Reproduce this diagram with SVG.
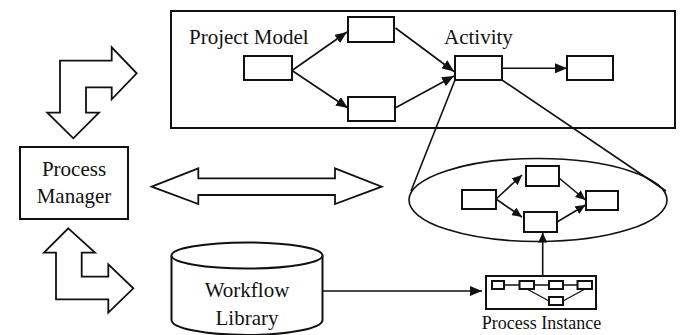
<svg xmlns="http://www.w3.org/2000/svg" width="680" height="335" viewBox="0 0 680 335">
  <style>
    .box { fill: #fff; stroke: #111; stroke-width: 2; }
    .frame { fill: none; stroke: #111; stroke-width: 2; }
    .big { fill: #fff; stroke: #111; stroke-width: 1.8; stroke-linejoin: miter; }
    .edge { fill: none; stroke: #111; stroke-width: 1.6; }
    .thin { fill: none; stroke: #111; stroke-width: 1.3; }
    text { font-family: 'Liberation Serif', 'Times New Roman', Times, 'DejaVu Serif', serif; fill: #111; }
    .lbl { font-size: 21px; }
    .lbl-s { font-size: 18px; }
  </style>
  <defs>
    <marker id="ah" viewBox="0 0 12 10" refX="12" refY="5" markerWidth="12" markerHeight="10" markerUnits="userSpaceOnUse" orient="auto">
      <path d="M0,0 L12,5 L0,10 Z" fill="#111"/>
    </marker>
    <marker id="ahs" viewBox="0 0 10 9" refX="10" refY="4.5" markerWidth="10" markerHeight="9" markerUnits="userSpaceOnUse" orient="auto">
      <path d="M0,0 L10,4.5 L0,9 Z" fill="#111"/>
    </marker>
  </defs>

  <!-- Project model frame -->
  <g id="project-model">
    <rect class="frame" x="171" y="11" width="504" height="117"/>
    <text class="lbl" x="189" y="44">Project Model</text>
    <rect class="box" x="244" y="56" width="48" height="24"/>
    <rect class="box" x="348" y="17" width="46" height="25"/>
    <rect class="box" x="348" y="97" width="47" height="24"/>
    <rect class="box" x="567" y="56" width="46" height="24"/>
  </g>
  <g id="activity">
    <text class="lbl" x="444" y="44">Activity</text>
    <rect class="box" x="455" y="56" width="47" height="24"/>
  </g>

  <!-- Process manager -->
  <g id="process-manager">
    <rect class="box" x="20" y="147" width="108" height="72"/>
    <text class="lbl" x="74" y="176" text-anchor="middle">Process</text>
    <text class="lbl" x="74" y="203" text-anchor="middle">Manager</text>
  </g>

  <!-- Activity detail (ellipse) -->
  <g id="activity-detail">
    <ellipse class="edge" cx="538" cy="200" rx="129" ry="41.5"/>
    <rect class="box" x="462" y="190" width="34" height="19"/>
    <rect class="box" x="526" y="166" width="33" height="20"/>
    <rect class="box" x="524" y="212" width="33" height="20"/>
    <rect class="box" x="586" y="191" width="32" height="19"/>
  </g>

  <!-- Workflow library -->
  <g id="workflow-library">
    <path class="box" d="M171.5,255.5 L171.5,320 A75.5,15 0 0 0 322.5,320 L322.5,255.5"/>
    <ellipse class="box" cx="247" cy="255.5" rx="75.5" ry="13"/>
    <text class="lbl" x="247" y="297" text-anchor="middle">Workflow</text>
    <text class="lbl" x="247" y="325" text-anchor="middle">Library</text>
  </g>

  <!-- Process instance -->
  <g id="process-instance">
    <rect class="box" x="486" y="276" width="110" height="33" stroke-width="1.6"/>
    <line class="thin" x1="504" y1="285" x2="577" y2="285"/>
    <polyline class="thin" points="527,289 549,301"/>
    <polyline class="thin" points="563,301 585,289"/>
    <rect class="box" x="492" y="281" width="12" height="8" stroke-width="1.3"/>
    <rect class="box" x="519.5" y="281" width="14.5" height="8" stroke-width="1.3"/>
    <rect class="box" x="549" y="281" width="14" height="8" stroke-width="1.3"/>
    <rect class="box" x="577.5" y="281" width="14.5" height="8" stroke-width="1.3"/>
    <rect class="box" x="549" y="297" width="14" height="8" stroke-width="1.3"/>
    <text class="lbl-s" x="541.5" y="329" text-anchor="middle">Process Instance</text>
  </g>

  <!-- Block arrows -->
  <g id="block-arrows">
    <path class="big" d="M60,112.7 L60,60.7 L111.7,60.7 L111.7,47.3 L136.7,73.3 L111.7,99.3 L111.7,87.3 L86,87.3 L86,112.7 L99,112.7 L73.3,138.3 L47.3,112.7 Z"/>
    <path class="big" d="M151.7,186.7 L198.3,168.3 L198.3,178.3 L335,178.3 L335,168.3 L381.7,186.7 L335,204 L335,195 L198.3,195 L198.3,204 Z"/>
    <path class="big" d="M68.3,228.3 L95,252.7 L81.7,252.7 L81.7,276.7 L108.3,276.7 L108.3,264.3 L133.3,288.3 L108.3,312.7 L108.3,299.3 L56,299.3 L56,252.7 L44,252.7 Z"/>
  </g>

  <!-- Connectors -->
  <g id="connectors">
    <line class="edge" x1="292" y1="70.5" x2="347" y2="32" marker-end="url(#ah)"/>
    <line class="edge" x1="292" y1="70.5" x2="348" y2="108" marker-end="url(#ah)"/>
    <line class="edge" x1="395.5" y1="28" x2="454" y2="71.5" marker-end="url(#ah)"/>
    <line class="edge" x1="396" y1="107.5" x2="454" y2="76" marker-end="url(#ah)"/>
    <line class="edge" x1="502" y1="68.3" x2="567" y2="68.3" marker-end="url(#ah)"/>
    <line class="edge" x1="455" y1="80" x2="411" y2="191"/>
    <line class="edge" x1="502" y1="80" x2="666" y2="191"/>
    <line class="edge" x1="496" y1="199" x2="522" y2="175" marker-end="url(#ahs)"/>
    <line class="edge" x1="496" y1="199" x2="522" y2="217" marker-end="url(#ahs)"/>
    <line class="edge" x1="559" y1="178" x2="585.5" y2="200" marker-end="url(#ahs)"/>
    <line class="edge" x1="557" y1="222" x2="585.5" y2="205" marker-end="url(#ahs)"/>
    <line class="edge" x1="542.7" y1="276" x2="542.7" y2="232.5" marker-end="url(#ahs)"/>
    <line class="edge" x1="322.5" y1="291" x2="482" y2="291" marker-end="url(#ah)"/>
  </g>
</svg>
